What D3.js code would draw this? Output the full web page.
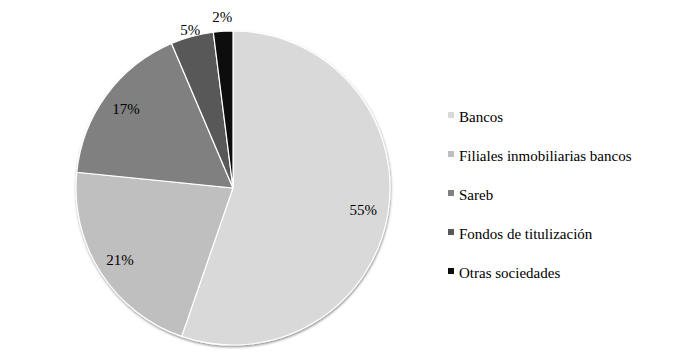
<!DOCTYPE html>
<html>
<head>
<meta charset="utf-8">
<script src="https://cdn.jsdelivr.net/npm/d3@7"></script>
<style>
  body { margin: 0; background: #fff; }
  text { font-family: "Liberation Serif", "DejaVu Serif", serif; fill: #000; }
</style>
</head>
<body>
<svg id="chart"></svg>
<script>
const categories = ["Bancos", "Filiales inmobiliarias bancos", "Sareb", "Fondos de titulización", "Otras sociedades"];
const values = [55.3, 21.3, 17.0, 4.4, 2.0];
const labels = ["55%", "21%", "17%", "5%", "2%"];
const colors = ["#d9d9d9", "#bfbfbf", "#808080", "#595959", "#0d0d0d"];

const width = 679, height = 361;
const cx = 233, cy = 188, radius = 157;

const svg = d3.select("#chart")
  .attr("width", width)
  .attr("height", height)
  .attr("viewBox", [0, 0, width, height]);

const defs = svg.append("defs");
defs.append("filter")
  .attr("id", "shadow")
  .attr("x", "-10%").attr("y", "-10%").attr("width", "120%").attr("height", "120%")
  .call(f => f.append("feDropShadow")
    .attr("dx", 0.5).attr("dy", 1.5).attr("stdDeviation", 1.2)
    .attr("flood-color", "#000").attr("flood-opacity", 0.45));

const pie = d3.pie().sort(null).value(d => d)(values);
const arc = d3.arc().innerRadius(0).outerRadius(radius);

const g = svg.append("g").attr("transform", `translate(${cx},${cy})`);

g.append("g")
  .attr("filter", "url(#shadow)")
  .selectAll("path")
  .data(pie)
  .join("path")
    .attr("d", arc)
    .attr("fill", (d, i) => colors[i])
    .attr("stroke", "#fff")
    .attr("stroke-width", 1.2);

// inside labels at ~0.84R, small slices placed outside
const labelRadius = [132, 134, 133, 164, 172];
const labelArc = i => d3.arc().innerRadius(labelRadius[i]).outerRadius(labelRadius[i]);

g.append("g")
  .selectAll("text")
  .data(pie)
  .join("text")
    .attr("transform", (d, i) => `translate(${labelArc(i).centroid(d)})`)
    .attr("text-anchor", "middle")
    .attr("dy", "0.35em")
    .style("font-size", "15px")
    .text((d, i) => labels[i]);

// legend
const legend = svg.append("g").attr("transform", "translate(448,117)");
const row = legend.selectAll("g")
  .data(categories)
  .join("g")
    .attr("transform", (d, i) => `translate(0,${i * 39})`);

row.append("rect")
  .attr("x", 0).attr("y", -5)
  .attr("width", 6).attr("height", 6)
  .attr("fill", (d, i) => colors[i]);

row.append("text")
  .attr("x", 11)
  .attr("y", 5)
  .style("font-size", "15px")
  .text(d => d);
</script>
</body>
</html>
